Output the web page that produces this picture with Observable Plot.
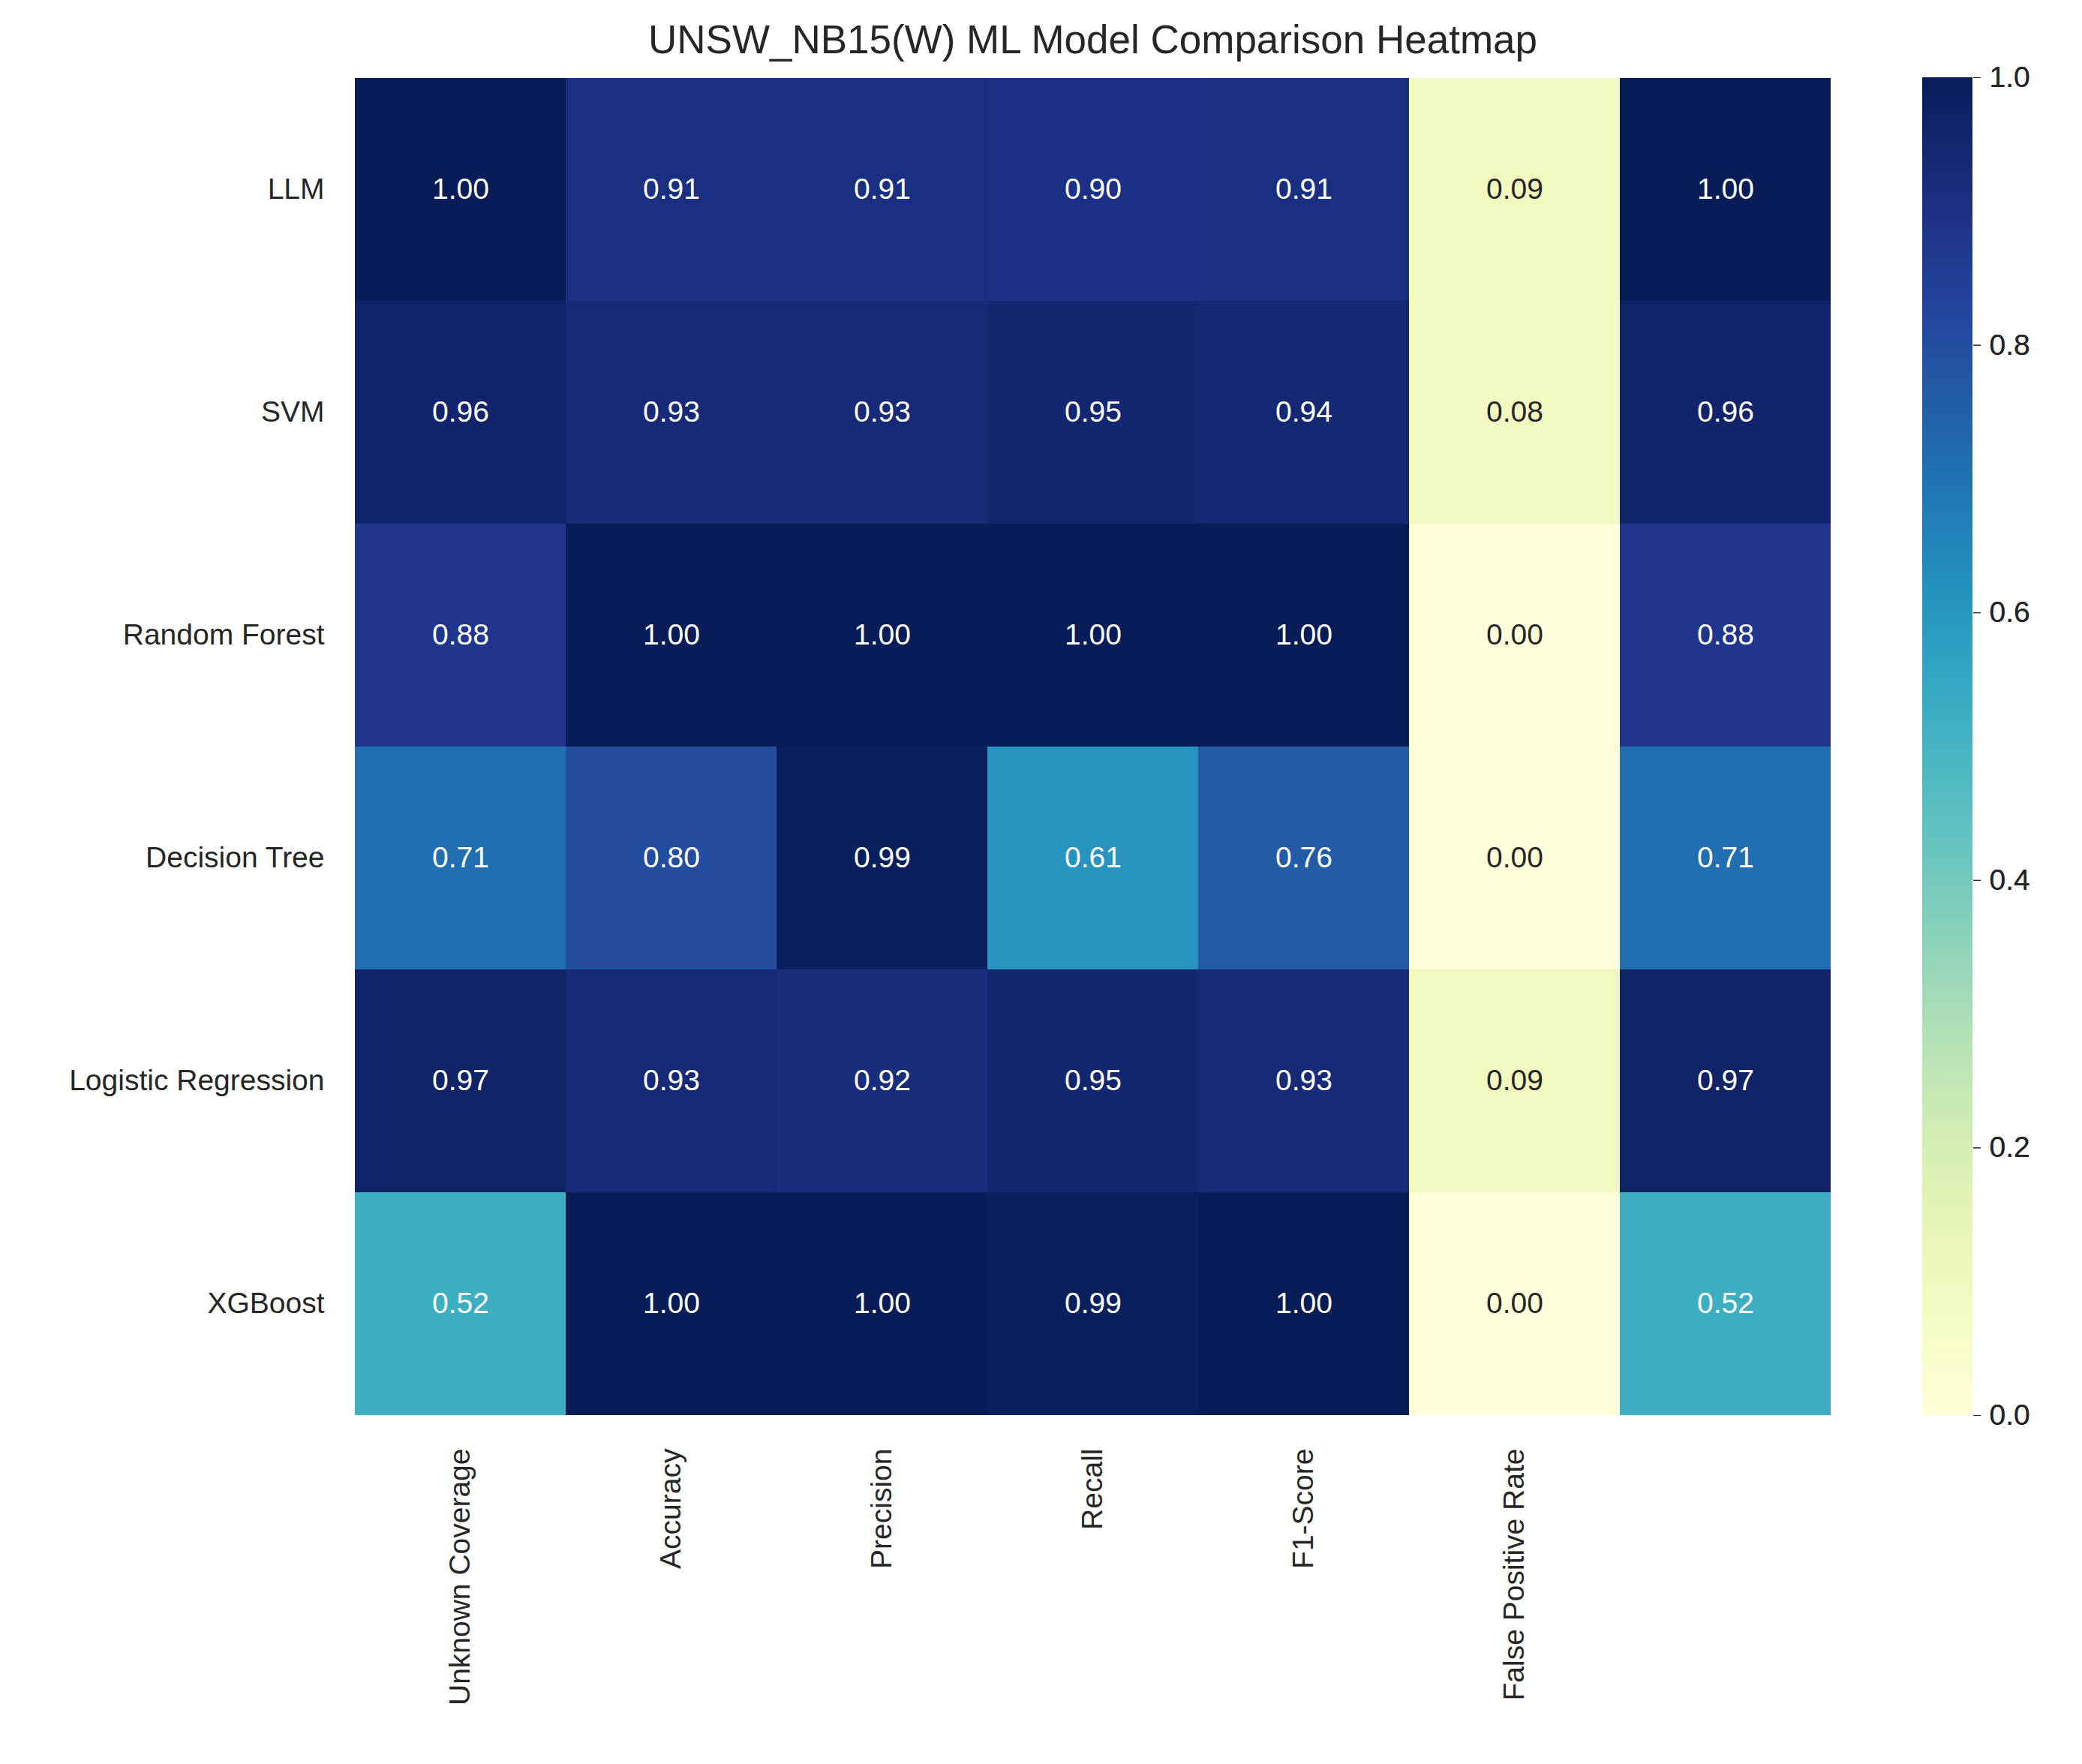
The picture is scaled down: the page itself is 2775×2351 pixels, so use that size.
<!DOCTYPE html>
<html><head><meta charset="utf-8">
<script src="https://cdn.jsdelivr.net/npm/d3@7"></script>
<script src="https://cdn.jsdelivr.net/npm/@observablehq/plot@0.6"></script>
<style>
body{margin:0;background:#fff;font-family:"Liberation Sans",Arial,sans-serif}
#wrap{position:relative;width:2775px;height:2351px}
#title{position:absolute;top:22px;left:471px;width:1971px;text-align:center;font-size:53px;color:#262626}
#main,#cbar{position:absolute;top:0;left:0}
</style></head><body>
<div id="wrap"><div id="title">UNSW_NB15(W) ML Model Comparison Heatmap</div><div id="main"></div><div id="cbar"></div></div>
<script>
const models = ["LLM","SVM","Random Forest","Decision Tree","Logistic Regression","XGBoost"];
const metrics = ["Unknown Coverage","Accuracy","Precision","Recall","F1-Score","False Positive Rate",""];
const values = [
  [1.00,0.91,0.91,0.90,0.91,0.09,1.00],
  [0.96,0.93,0.93,0.95,0.94,0.08,0.96],
  [0.88,1.00,1.00,1.00,1.00,0.00,0.88],
  [0.71,0.80,0.99,0.61,0.76,0.00,0.71],
  [0.97,0.93,0.92,0.95,0.93,0.09,0.97],
  [0.52,1.00,1.00,0.99,1.00,0.00,0.52]
];
const colorTicks = [0,0.2,0.4,0.6,0.8,1.0];
const data = [];
models.forEach((m,i)=>metrics.forEach((k,j)=>data.push({model:m,metric:k,col:j,value:values[i][j]})));
const colKeys = metrics.map((k,j)=>j);
const chart = Plot.plot({
  width:2775,height:2351,marginTop:103,marginLeft:471,marginRight:333,marginBottom:465,
  style:{fontFamily:"Liberation Sans, Arial, sans-serif",fontSize:"39px",color:"#262626",background:"transparent"},
  x:{domain:colKeys,padding:0,label:null,tickFormat:j=>metrics[j],tickSize:0,tickPadding:44,tickRotate:-90},
  y:{domain:models,padding:0,label:null,tickSize:0,tickPadding:39},
  color:{type:"linear",scheme:"YlGnBu",domain:[0,1]},
  marks:[
    Plot.cell(data,{x:"col",y:"model",fill:"value"}),
    Plot.text(data,{x:"col",y:"model",text:d=>d.value.toFixed(2),fontSize:39,fill:d=>d.value>0.4?"#ffffff":"#262626"})
  ]
});
document.getElementById("main").appendChild(chart);
const steps = d3.range(0,1,0.002);
const cb = Plot.plot({
  width:2775,height:2351,marginTop:103,marginBottom:465,marginLeft:2562,marginRight:146,
  style:{fontFamily:"Liberation Sans, Arial, sans-serif",fontSize:"39px",color:"#262626",background:"transparent"},
  x:{axis:null,domain:[0,1]},
  y:{domain:[0,1],ticks:colorTicks,tickFormat:".1f",axis:"right",label:null,tickSize:10,tickPadding:12},
  color:{type:"linear",scheme:"YlGnBu",domain:[0,1]},
  marks:[
    Plot.rect(steps,{x1:0,x2:1,y1:d=>d,y2:d=>Math.min(1,d+0.0025),fill:d=>d}),
    Plot.axisY({anchor:"right",ticks:colorTicks,tickFormat:".1f",tickSize:10,tickPadding:12,label:null,fontSize:39})
  ]
});
document.getElementById("cbar").appendChild(cb);
</script></body></html>
